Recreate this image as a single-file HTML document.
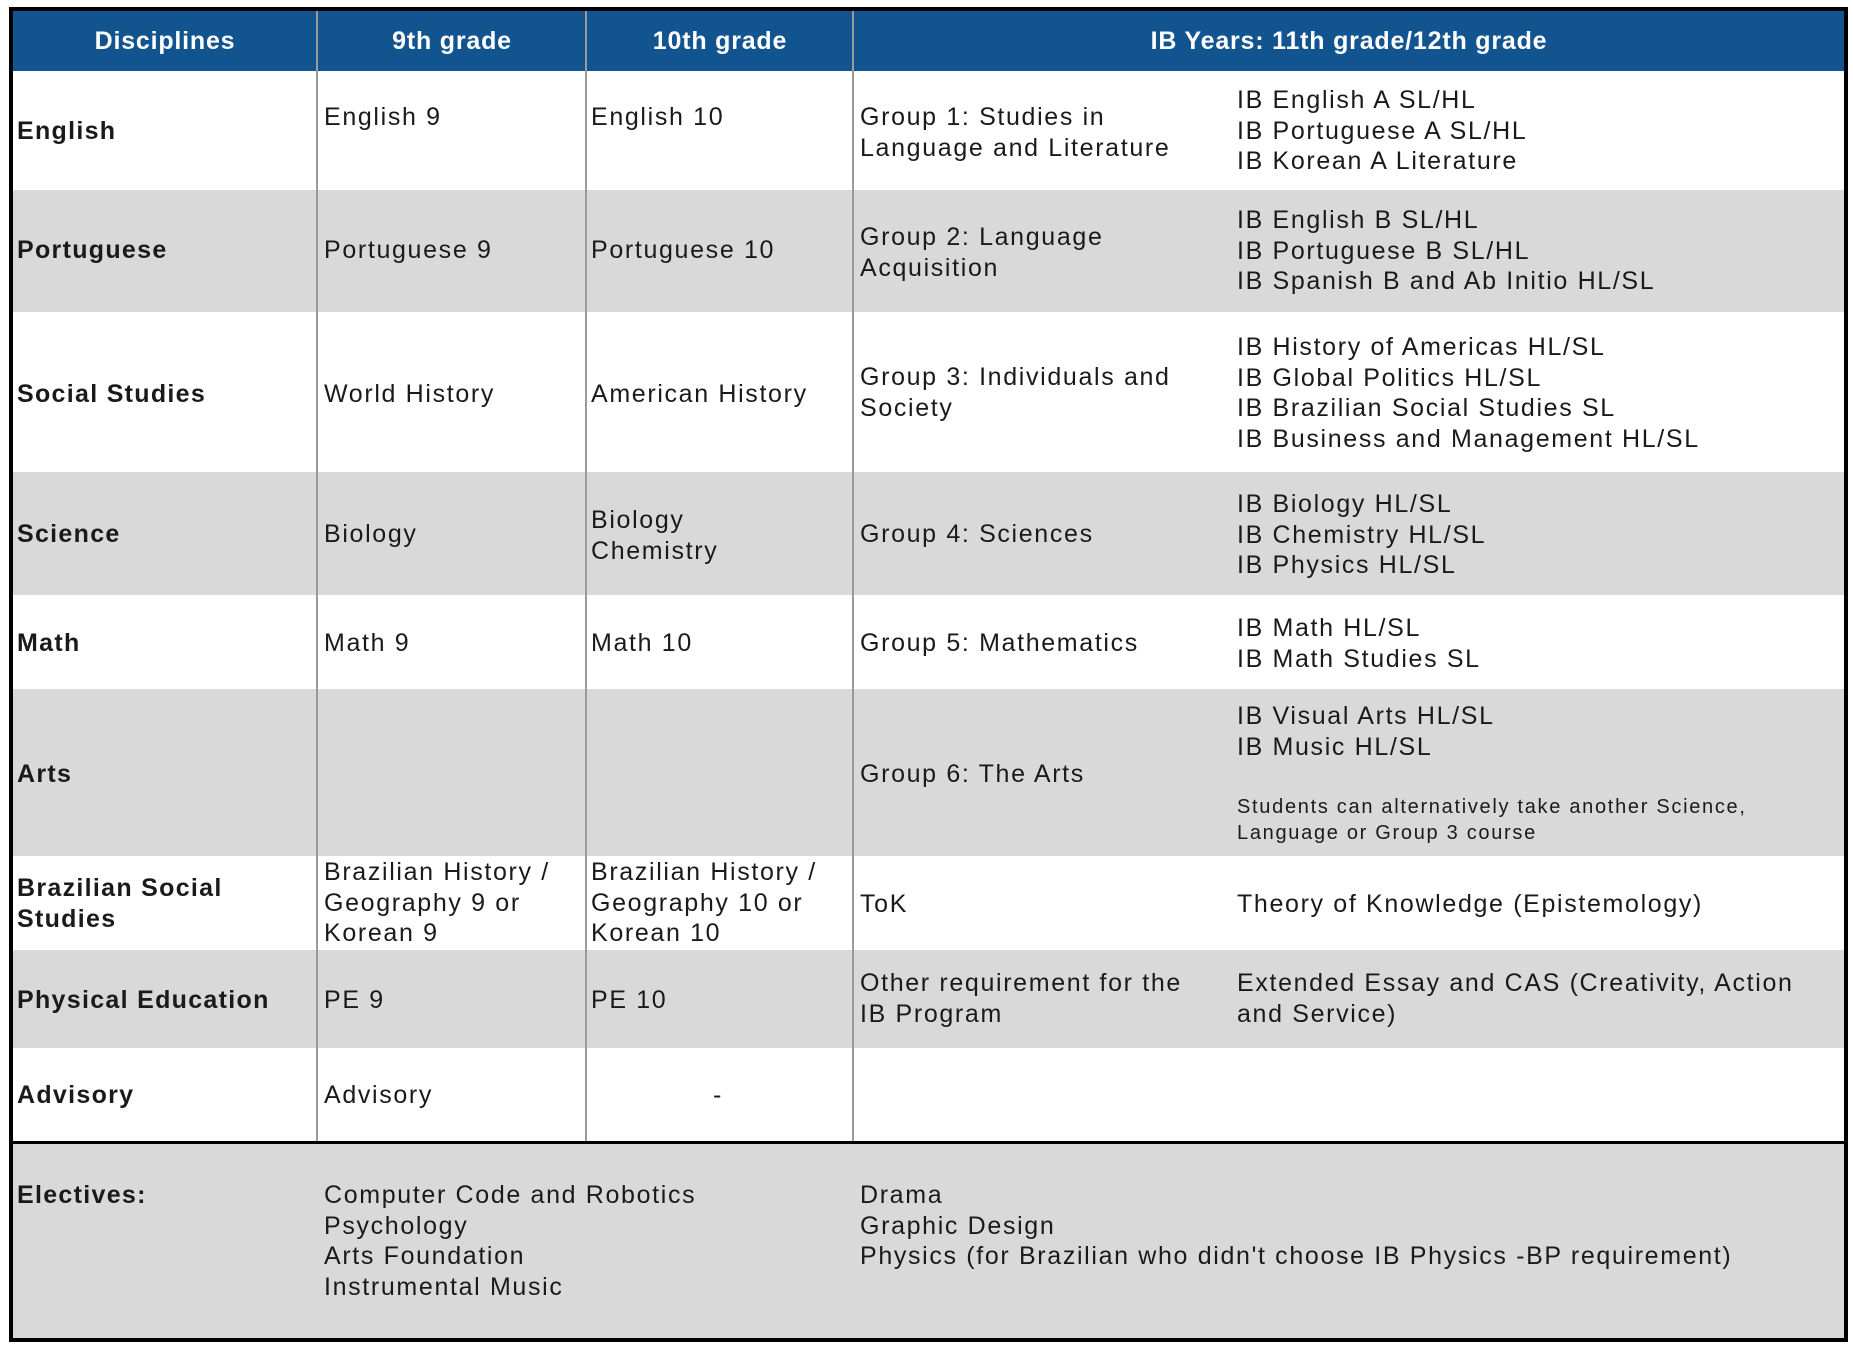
<!DOCTYPE html>
<html>
<head>
<meta charset="utf-8">
<style>
html,body{margin:0;padding:0;background:#fff;}
body{width:1853px;height:1346px;position:relative;overflow:hidden;font-family:"Liberation Sans",sans-serif;color:#1a1a1a;}
.abs{position:absolute;}
.bg{position:absolute;left:13px;width:1831px;}
.g{background:#d9d9d9;}
.w{background:#fff;}
.vl{position:absolute;top:11px;width:2px;height:1131px;background:#9a9a9a;}
.t{position:absolute;font-size:25px;line-height:30.7px;letter-spacing:1.65px;white-space:nowrap;margin-top:2px;}
.b{position:absolute;font-size:25px;line-height:30.7px;font-weight:bold;letter-spacing:1.3px;white-space:nowrap;margin-top:2px;}
.h{position:absolute;top:26px;font-size:25px;line-height:30px;font-weight:bold;color:#fff;text-align:center;letter-spacing:0.8px;white-space:nowrap;}
.s{position:absolute;font-size:20px;line-height:26px;letter-spacing:1.7px;white-space:nowrap;margin-top:2px;}
</style>
</head>
<body>
<!-- row backgrounds -->
<div class="bg" style="top:11px;height:60px;background:#11548f;"></div>
<div class="bg w" style="top:71px;height:119px;"></div>
<div class="bg g" style="top:190px;height:122px;"></div>
<div class="bg w" style="top:312px;height:160px;"></div>
<div class="bg g" style="top:472px;height:123px;"></div>
<div class="bg w" style="top:595px;height:94px;"></div>
<div class="bg g" style="top:689px;height:167px;"></div>
<div class="bg w" style="top:856px;height:94px;"></div>
<div class="bg g" style="top:950px;height:98px;"></div>
<div class="bg w" style="top:1048px;height:94px;"></div>
<div class="bg g" style="top:1144px;height:194px;"></div>

<!-- vertical lines -->
<div class="vl" style="left:316px;"></div>
<div class="vl" style="left:585px;"></div>
<div class="vl" style="left:852px;"></div>

<!-- thick separator -->
<div class="abs" style="left:13px;top:1141px;width:1831px;height:3px;background:#000;"></div>

<!-- outer border -->
<div class="abs" style="left:9px;top:7px;width:1839px;height:1335px;border:4px solid #000;box-sizing:border-box;"></div>

<!-- header -->
<div class="h" style="left:13px;width:304px;">Disciplines</div>
<div class="h" style="left:318px;width:268px;">9th grade</div>
<div class="h" style="left:587px;width:266px;">10th grade</div>
<div class="h" style="left:854px;width:990px;">IB Years: 11th grade/12th grade</div>

<!-- column 1 -->
<div class="b" style="left:17px;top:114px;">English</div>
<div class="b" style="left:17px;top:233px;">Portuguese</div>
<div class="b" style="left:17px;top:377px;">Social Studies</div>
<div class="b" style="left:17px;top:517px;">Science</div>
<div class="b" style="left:17px;top:626px;">Math</div>
<div class="b" style="left:17px;top:757px;">Arts</div>
<div class="b" style="left:17px;top:871px;">Brazilian Social<br>Studies</div>
<div class="b" style="left:17px;top:983px;">Physical Education</div>
<div class="b" style="left:17px;top:1078px;">Advisory</div>
<div class="b" style="left:17px;top:1178px;">Electives:</div>

<!-- column 2 -->
<div class="t" style="left:324px;top:100px;">English 9</div>
<div class="t" style="left:324px;top:233px;">Portuguese 9</div>
<div class="t" style="left:324px;top:377px;">World History</div>
<div class="t" style="left:324px;top:517px;">Biology</div>
<div class="t" style="left:324px;top:626px;">Math 9</div>
<div class="t" style="left:324px;top:855px;">Brazilian History /<br>Geography 9 or<br>Korean 9</div>
<div class="t" style="left:324px;top:983px;">PE 9</div>
<div class="t" style="left:324px;top:1078px;">Advisory</div>
<div class="t" style="left:324px;top:1178px;">Computer Code and Robotics<br>Psychology<br>Arts Foundation<br>Instrumental Music</div>

<!-- column 3 -->
<div class="t" style="left:591px;top:100px;">English 10</div>
<div class="t" style="left:591px;top:233px;">Portuguese 10</div>
<div class="t" style="left:591px;top:377px;">American History</div>
<div class="t" style="left:591px;top:503px;">Biology<br>Chemistry</div>
<div class="t" style="left:591px;top:626px;">Math 10</div>
<div class="t" style="left:591px;top:855px;">Brazilian History /<br>Geography 10 or<br>Korean 10</div>
<div class="t" style="left:591px;top:983px;">PE 10</div>
<div class="t" style="left:713px;top:1078px;">-</div>

<!-- column 4 -->
<div class="t" style="left:860px;top:100px;">Group 1: Studies in<br>Language and Literature</div>
<div class="t" style="left:860px;top:220px;">Group 2: Language<br>Acquisition</div>
<div class="t" style="left:860px;top:360px;">Group 3: Individuals and<br>Society</div>
<div class="t" style="left:860px;top:517px;">Group 4: Sciences</div>
<div class="t" style="left:860px;top:626px;">Group 5: Mathematics</div>
<div class="t" style="left:860px;top:757px;">Group 6: The Arts</div>
<div class="t" style="left:860px;top:887px;">ToK</div>
<div class="t" style="left:860px;top:966px;">Other requirement for the<br>IB Program</div>
<div class="t" style="left:860px;top:1178px;">Drama<br>Graphic Design<br>Physics (for Brazilian who didn't choose IB Physics -BP requirement)</div>

<!-- column 5 -->
<div class="t" style="left:1237px;top:83px;">IB English A SL/HL<br>IB Portuguese A SL/HL<br>IB Korean A Literature</div>
<div class="t" style="left:1237px;top:203px;">IB English B SL/HL<br>IB Portuguese B SL/HL<br>IB Spanish B and Ab Initio HL/SL</div>
<div class="t" style="left:1237px;top:330px;">IB History of Americas HL/SL<br>IB Global Politics HL/SL<br>IB Brazilian Social Studies SL<br>IB Business and Management HL/SL</div>
<div class="t" style="left:1237px;top:487px;">IB Biology HL/SL<br>IB Chemistry HL/SL<br>IB Physics HL/SL</div>
<div class="t" style="left:1237px;top:611px;">IB Math HL/SL<br>IB Math Studies SL</div>
<div class="t" style="left:1237px;top:699px;">IB Visual Arts HL/SL<br>IB Music HL/SL</div>
<div class="s" style="left:1237px;top:792px;">Students can alternatively take another Science,<br>Language or Group 3 course</div>
<div class="t" style="left:1237px;top:887px;">Theory of Knowledge (Epistemology)</div>
<div class="t" style="left:1237px;top:966px;">Extended Essay and CAS (Creativity, Action<br>and Service)</div>
</body>
</html>
